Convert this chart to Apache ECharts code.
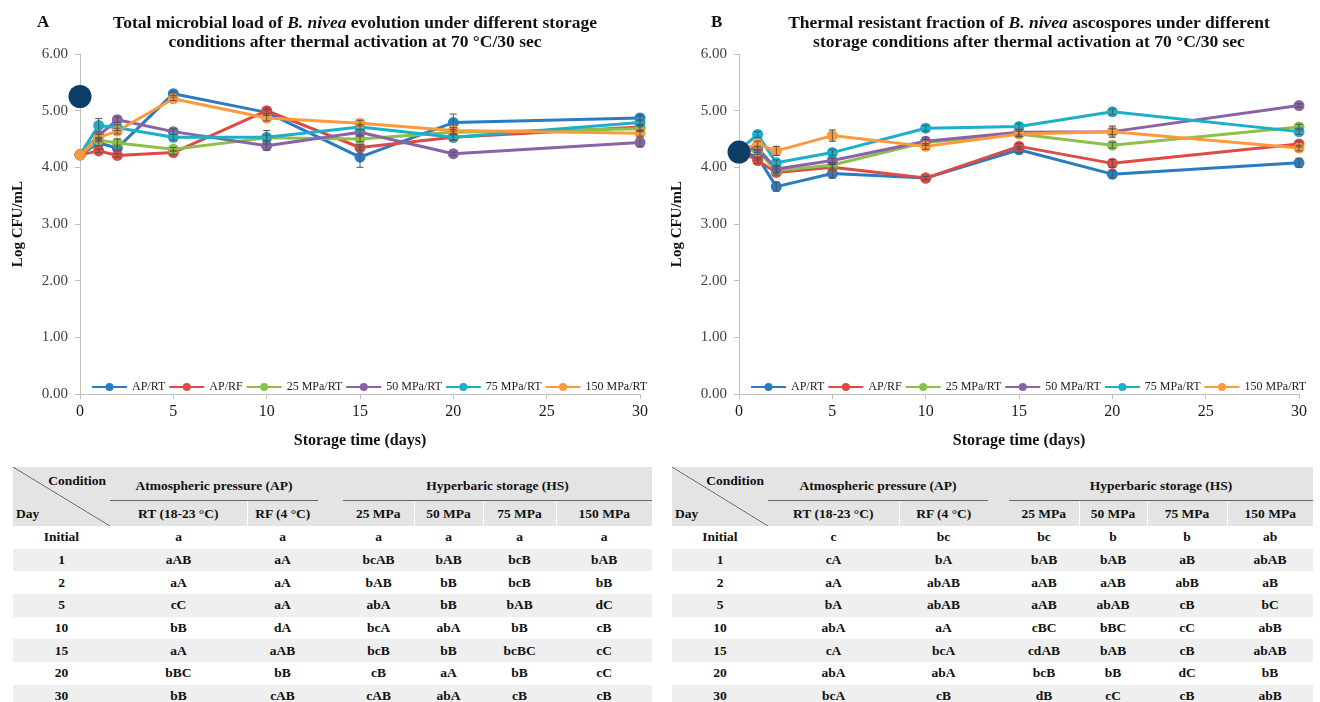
<!DOCTYPE html>
<html>
<head>
<meta charset="utf-8">
<script src="https://cdn.jsdelivr.net/npm/echarts@6/dist/echarts.min.js"></script>
<style>
body { margin: 0; background: #fff; }
#wrap { position: relative; width: 1320px; height: 702px; overflow: hidden; background: #fff; }
#chart { position: absolute; left: 0; top: 0; width: 1320px; height: 462px; }
table.t { position: absolute; border-collapse: collapse; table-layout: fixed;
  font: bold 13.5px "Liberation Serif", "Times New Roman", serif; color: #111; }
table.t td { padding: 0; text-align: center; white-space: nowrap; overflow: hidden; box-sizing: border-box; }
tr.h1 td { height: 33px; background: #e4e4e4; }
tr.h1 td.grp { border-bottom: 1px solid #666; padding-top: 6px; }
tr.h2 td { height: 26px; background: #e4e4e4; border-left: 1px solid #fff; padding-top: 2px; }
tr.h2 td:first-child { border-left: none; }
tr.r td { height: 22.7px; }
tr.r.alt td { background: #efefef; }
td.diag { position: relative; background: #e4e4e4 linear-gradient(to top right, transparent calc(50% - 0.7px), #555 50%, transparent calc(50% + 0.7px)) !important; }
td.diag .cond { position: absolute; right: 4px; top: 6px; }
td.diag .day { position: absolute; left: 3px; bottom: 4px; }
</style>
</head>
<body>
<div id="wrap">
  <div id="chart"></div>
</div>
<script>
// storage days (x axis)
var days = [0, 1, 2, 5, 10, 15, 20, 30];
var seriesNames = ['AP/RT', 'AP/RF', '25 MPa/RT', '50 MPa/RT', '75 MPa/RT', '150 MPa/RT'];
var colors = ['#2b7bc0', '#de4a44', '#8cc04b', '#8a62a8', '#1bafc9', '#ff9a3c'];

// A: total microbial load (log CFU/mL)
var initialA = 5.25;
var a_apRT  = [4.22, 4.43, 4.34, 5.30, 4.97, 4.18, 4.79, 4.87];
var a_apRF  = [4.22, 4.29, 4.21, 4.26, 5.00, 4.35, 4.53, 4.71];
var a_hs25  = [4.22, 4.48, 4.43, 4.32, 4.52, 4.50, 4.62, 4.68];
var a_hs50  = [4.22, 4.56, 4.84, 4.63, 4.38, 4.62, 4.24, 4.44];
var a_hs75  = [4.22, 4.74, 4.70, 4.53, 4.53, 4.71, 4.53, 4.79];
var a_hs150 = [4.22, 4.53, 4.64, 5.21, 4.87, 4.78, 4.65, 4.60];
var a_errRT  = [0, 0.05, 0.05, 0.03, 0.05, 0.18, 0.15, 0.05];
var a_errRF  = [0, 0.03, 0.03, 0.03, 0.05, 0.05, 0.05, 0.05];
var a_err25  = [0, 0.03, 0.07, 0.03, 0.05, 0.05, 0.05, 0.05];
var a_err50  = [0, 0.03, 0.05, 0.05, 0.08, 0.05, 0.03, 0.08];
var a_err75  = [0, 0.12, 0.05, 0.05, 0.12, 0.05, 0.05, 0.05];
var a_err150 = [0, 0.05, 0.05, 0.03, 0.05, 0.05, 0.05, 0.05];

// B: thermal resistant fraction (log CFU/mL)
var initialB = 4.27;
var b_apRT  = [4.30, 4.18, 3.66, 3.89, 3.81, 4.31, 3.88, 4.08];
var b_apRF  = [4.30, 4.12, 3.91, 4.00, 3.81, 4.37, 4.07, 4.41];
var b_hs25  = [4.30, 4.29, 3.94, 4.04, 4.44, 4.59, 4.39, 4.71];
var b_hs50  = [4.30, 4.34, 3.97, 4.12, 4.46, 4.62, 4.63, 5.09];
var b_hs75  = [4.30, 4.58, 4.08, 4.26, 4.69, 4.72, 4.98, 4.63];
var b_hs150 = [4.30, 4.41, 4.29, 4.56, 4.37, 4.59, 4.63, 4.34];
var b_errRT  = [0, 0.05, 0.08, 0.08, 0.03, 0.05, 0.07, 0.08];
var b_errRF  = [0, 0.05, 0.05, 0.05, 0.03, 0.05, 0.07, 0.05];
var b_err25  = [0, 0.03, 0.05, 0.05, 0.05, 0.05, 0.05, 0.05];
var b_err50  = [0, 0.03, 0.05, 0.05, 0.07, 0.05, 0.05, 0.03];
var b_err75  = [0, 0.05, 0.05, 0.05, 0.05, 0.05, 0.05, 0.05];
var b_err150 = [0, 0.05, 0.08, 0.10, 0.05, 0.05, 0.10, 0.05];

var yTicks = [0, 1, 2, 3, 4, 5, 6];

// table letters (significance groups)
var tableCols = ['RT (18-23 °C)', 'RF (4 °C)', '25 MPa', '50 MPa', '75 MPa', '150 MPa'];
var tableDays = ['Initial', '1', '2', '5', '10', '15', '20', '30'];
var tableA = [
  ['a', 'a', 'a', 'a', 'a', 'a'],
  ['aAB', 'aA', 'bcAB', 'bAB', 'bcB', 'bAB'],
  ['aA', 'aA', 'bAB', 'bB', 'bcB', 'bB'],
  ['cC', 'aA', 'abA', 'bB', 'bAB', 'dC'],
  ['bB', 'dA', 'bcA', 'abA', 'bB', 'cB'],
  ['aA', 'aAB', 'bcB', 'bB', 'bcBC', 'cC'],
  ['bBC', 'bB', 'cB', 'aA', 'bB', 'cC'],
  ['bB', 'cAB', 'cAB', 'abA', 'cB', 'cB']
];
var tableB = [
  ['c', 'bc', 'bc', 'b', 'b', 'ab'],
  ['cA', 'bA', 'bAB', 'bAB', 'aB', 'abAB'],
  ['aA', 'abAB', 'aAB', 'aAB', 'abB', 'aB'],
  ['bA', 'abAB', 'aAB', 'abAB', 'cB', 'bC'],
  ['abA', 'aA', 'cBC', 'bBC', 'cC', 'abB'],
  ['cA', 'bcA', 'cdAB', 'bAB', 'cB', 'abAB'],
  ['abA', 'abA', 'bcB', 'bB', 'dC', 'bB'],
  ['bcA', 'cB', 'dB', 'cC', 'cB', 'abB']
];

var serif = '"Liberation Serif", "Times New Roman", serif';
var chart = echarts.init(document.getElementById('chart'));

function pairs(vals) {
  return days.map(function (d, i) { return [d, vals[i]]; });
}
function errData(vals, errs) {
  var out = [];
  days.forEach(function (d, i) {
    if (errs[i] > 0) out.push([d, vals[i] - errs[i], vals[i] + errs[i]]);
  });
  return out;
}
function renderErr(params, api) {
  var x = api.value(0);
  var lo = api.coord([x, api.value(1)]);
  var hi = api.coord([x, api.value(2)]);
  var w = 3.5, st = { stroke: '#555', lineWidth: 1 };
  return { type: 'group', children: [
    { type: 'line', shape: { x1: lo[0], y1: lo[1], x2: hi[0], y2: hi[1] }, style: st },
    { type: 'line', shape: { x1: hi[0] - w, y1: hi[1], x2: hi[0] + w, y2: hi[1] }, style: st },
    { type: 'line', shape: { x1: lo[0] - w, y1: lo[1], x2: lo[0] + w, y2: lo[1] }, style: st }
  ]};
}

function axisPair(idx) {
  var x = {
    gridIndex: idx, type: 'value', min: 0, max: 30, interval: 5,
    name: 'Storage time (days)', nameLocation: 'middle', nameGap: 39,
    nameTextStyle: { fontFamily: serif, fontWeight: 'bold', fontSize: 16, color: '#111' },
    axisLine: { show: true, lineStyle: { color: '#bfbfbf' } },
    axisTick: { show: true, length: 5, lineStyle: { color: '#bfbfbf' } },
    axisLabel: { fontFamily: serif, fontSize: 16, color: '#1a1a1a', margin: 10 },
    splitLine: { show: false }
  };
  var y = {
    gridIndex: idx, type: 'value', min: yTicks[0], max: yTicks[yTicks.length - 1], interval: 1,
    name: 'Log CFU/mL', nameLocation: 'middle', nameGap: 54, nameRotate: 90,
    nameTextStyle: { fontFamily: serif, fontWeight: 'bold', fontSize: 15, color: '#111' },
    axisLine: { show: true, lineStyle: { color: '#bfbfbf' } },
    axisTick: { show: true, length: 5, lineStyle: { color: '#bfbfbf' } },
    axisLabel: { fontFamily: serif, fontSize: 15, color: '#404040', margin: 12,
      formatter: function (v) { return v.toFixed(2); } },
    splitLine: { show: false }
  };
  return [x, y];
}

var groups = [
  { vals: [a_apRT, a_apRF, a_hs25, a_hs50, a_hs75, a_hs150],
    errs: [a_errRT, a_errRF, a_err25, a_err50, a_err75, a_err150], init: initialA },
  { vals: [b_apRT, b_apRF, b_hs25, b_hs50, b_hs75, b_hs150],
    errs: [b_errRT, b_errRF, b_err25, b_err50, b_err75, b_err150], init: initialB }
];

var series = [];
groups.forEach(function (g, gi) {
  g.vals.forEach(function (v, si) {
    series.push({
      name: seriesNames[si], type: 'line', xAxisIndex: gi, yAxisIndex: gi,
      data: pairs(v), symbol: 'circle', symbolSize: 11, z: 2,
      lineStyle: { width: 3, color: colors[si] },
      itemStyle: { color: colors[si], opacity: 1 }
    });
  });
  g.vals.forEach(function (v, si) {
    series.push({
      type: 'custom', xAxisIndex: gi, yAxisIndex: gi, z: 3, silent: true,
      renderItem: renderErr, encode: { x: 0, y: [1, 2] },
      data: errData(v, g.errs[si])
    });
  });
  series.push({
    type: 'scatter', xAxisIndex: gi, yAxisIndex: gi, z: 5, symbolSize: 23,
    itemStyle: { color: '#0c3d67', opacity: 1 }, data: [[days[0], g.init]]
  });
});

var axA = axisPair(0), axB = axisPair(1);

function titleText(x, label, line1a, line1b, line2) {
  return [
    { type: 'text', x: x - 318, y: 14, style: { text: label, font: 'bold 17px ' + serif, fill: '#111' } },
    { type: 'text', x: x, y: 14, style: {
      text: '{b|' + line1a + '}{i|B. nivea}{b|' + line1b + '}', align: 'center',
      rich: { b: { font: 'bold 17.5px ' + serif, fill: '#111' },
              i: { font: 'italic bold 17.5px ' + serif, fill: '#111' } } } },
    { type: 'text', x: x, y: 33, style: { text: line2, align: 'center', font: 'bold 17.5px ' + serif, fill: '#111' } }
  ];
}

var legendBase = {
  data: seriesNames, top: 376, itemWidth: 35, itemHeight: 10, itemGap: 3,
  textStyle: { fontFamily: serif, fontSize: 12, color: '#222' }
};

chart.setOption({
  animation: false,
  grid: [
    { left: 80, top: 54, width: 560, height: 340 },
    { left: 739, top: 54, width: 560, height: 340 }
  ],
  xAxis: [axA[0], axB[0]],
  yAxis: [axA[1], axB[1]],
  legend: [
    Object.assign({ left: 86 }, legendBase),
    Object.assign({ left: 745 }, legendBase)
  ],
  graphic: titleText(355, 'A', 'Total microbial load of ', ' evolution under different storage',
      'conditions after thermal activation at 70 °C/30 sec')
    .concat(titleText(1029, 'B', 'Thermal resistant fraction of ', ' ascospores under different',
      'storage conditions after thermal activation at 70 °C/30 sec')),
  series: series
});

// tables underneath
function buildTable(left, widths, rows) {
  var t = document.createElement('table');
  t.className = 't';
  t.style.left = left + 'px';
  t.style.top = '467px';
  var total = widths.reduce(function (s, w) { return s + w; }, 0);
  t.style.width = total + 'px';
  var html = '<colgroup>' + widths.map(function (w) { return '<col style="width:' + w + 'px">'; }).join('') + '</colgroup>';
  html += '<tr class="h1"><td rowspan="2" class="diag"><span class="cond">Condition</span><span class="day">Day</span></td>' +
          '<td colspan="2" class="grp">Atmospheric pressure (AP)</td><td rowspan="2"></td>' +
          '<td colspan="4" class="grp">Hyperbaric storage (HS)</td></tr>';
  html += '<tr class="h2">' + tableCols.map(function (c, i) {
    return '<td' + (i === 2 ? ' style="border-left:none"' : '') + '>' + c + '</td>';
  }).join('') + '</tr>';
  rows.forEach(function (r, i) {
    html += '<tr class="r' + (i % 2 === 1 ? ' alt' : '') + '"><td>' + tableDays[i] + '</td>' +
      '<td>' + r[0] + '</td><td>' + r[1] + '</td><td></td>' +
      r.slice(2).map(function (c) { return '<td>' + c + '</td>'; }).join('') + '</tr>';
  });
  t.innerHTML = html;
  document.getElementById('wrap').appendChild(t);
}
buildTable(13, [97, 137, 71, 25, 71, 69, 73, 96], tableA);
buildTable(672, [96, 131, 89, 21, 70, 68, 80, 86], tableB);
</script>
</body>
</html>
